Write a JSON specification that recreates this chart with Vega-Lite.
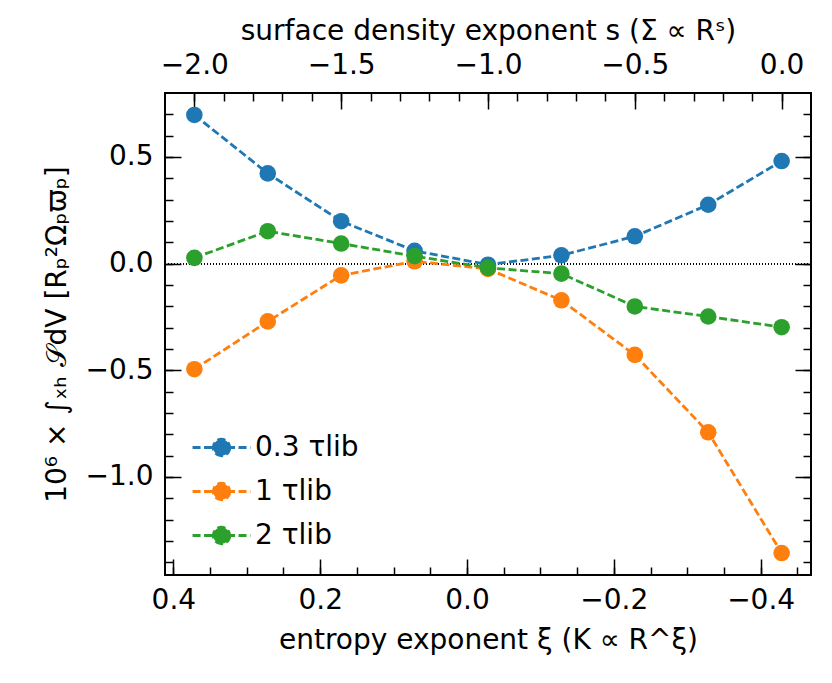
{
  "$schema": "https://vega.github.io/schema/vega-lite/v6.json",
  "autosize": "none",
  "padding": {"left": 165, "top": 93, "right": 21, "bottom": 108},
  "width": 646,
  "height": 482,
  "datasets": {
    "main": [
      {"s": -2.0, "xi": 0.3714, "series": "0.3 τlib", "v": 0.697},
      {"s": -1.75, "xi": 0.2714, "series": "0.3 τlib", "v": 0.423},
      {"s": -1.5, "xi": 0.1714, "series": "0.3 τlib", "v": 0.199},
      {"s": -1.25, "xi": 0.0714, "series": "0.3 τlib", "v": 0.060},
      {"s": -1.0, "xi": -0.0286, "series": "0.3 τlib", "v": -0.005},
      {"s": -0.75, "xi": -0.1286, "series": "0.3 τlib", "v": 0.039},
      {"s": -0.5, "xi": -0.2286, "series": "0.3 τlib", "v": 0.128},
      {"s": -0.25, "xi": -0.3286, "series": "0.3 τlib", "v": 0.276},
      {"s": 0.0, "xi": -0.4286, "series": "0.3 τlib", "v": 0.481},
      {"s": -2.0, "xi": 0.3714, "series": "1 τlib", "v": -0.495},
      {"s": -1.75, "xi": 0.2714, "series": "1 τlib", "v": -0.271},
      {"s": -1.5, "xi": 0.1714, "series": "1 τlib", "v": -0.055},
      {"s": -1.25, "xi": 0.0714, "series": "1 τlib", "v": 0.011},
      {"s": -1.0, "xi": -0.0286, "series": "1 τlib", "v": -0.025},
      {"s": -0.75, "xi": -0.1286, "series": "1 τlib", "v": -0.172},
      {"s": -0.5, "xi": -0.2286, "series": "1 τlib", "v": -0.428},
      {"s": -0.25, "xi": -0.3286, "series": "1 τlib", "v": -0.791},
      {"s": 0.0, "xi": -0.4286, "series": "1 τlib", "v": -1.357},
      {"s": -2.0, "xi": 0.3714, "series": "2 τlib", "v": 0.027},
      {"s": -1.75, "xi": 0.2714, "series": "2 τlib", "v": 0.152},
      {"s": -1.5, "xi": 0.1714, "series": "2 τlib", "v": 0.094},
      {"s": -1.25, "xi": 0.0714, "series": "2 τlib", "v": 0.035},
      {"s": -1.0, "xi": -0.0286, "series": "2 τlib", "v": -0.020},
      {"s": -0.75, "xi": -0.1286, "series": "2 τlib", "v": -0.047},
      {"s": -0.5, "xi": -0.2286, "series": "2 τlib", "v": -0.201},
      {"s": -0.25, "xi": -0.3286, "series": "2 τlib", "v": -0.248},
      {"s": 0.0, "xi": -0.4286, "series": "2 τlib", "v": -0.298}
    ]
  },
  "data": {"name": "main"},
  "layer": [
    {
      "mark": {"type": "rule", "color": "black", "strokeWidth": 1, "strokeDash": [1, 2]},
      "encoding": {
        "y": {"datum": 0, "type": "quantitative", "scale": {"domain": [-1.46, 0.80], "nice": false, "zero": false}, "axis": null}
      }
    },
    {
      "mark": {"type": "point", "opacity": 0},
      "encoding": {
        "x": {
          "field": "s", "type": "quantitative",
          "scale": {"domain": [-2.1, 0.1], "nice": false, "zero": false},
          "axis": {"orient": "top", "values": [-2, -1.5, -1, -0.5, 0], "format": ".1f", "tickSize": -16, "labelPadding": 30, "title": "surface density exponent s (Σ ∝ Rˢ)", "titlePadding": 6}
        },
        "y": {
          "field": "v", "type": "quantitative",
          "scale": {"domain": [-1.46, 0.80], "nice": false, "zero": false},
          "axis": {"orient": "right", "values": [-1, -0.5, 0, 0.5], "labels": false, "tickSize": -16, "title": null}
        }
      }
    },
    {
      "mark": {"type": "point", "opacity": 0},
      "encoding": {
        "x": {
          "field": "s", "type": "quantitative",
          "scale": {"domain": [-2.1, 0.1], "nice": false, "zero": false},
          "axis": {"orient": "top", "values": [-2, -1.9, -1.8, -1.7, -1.6, -1.5, -1.4, -1.3, -1.2, -1.1, -1, -0.9, -0.8, -0.7, -0.6, -0.5, -0.4, -0.3, -0.2, -0.1, 0], "labels": false, "tickSize": -8, "title": null}
        },
        "y": {
          "field": "v", "type": "quantitative",
          "scale": {"domain": [-1.46, 0.80], "nice": false, "zero": false},
          "axis": {"orient": "right", "values": [-1.4, -1.3, -1.2, -1.1, -1, -0.9, -0.8, -0.7, -0.6, -0.5, -0.4, -0.3, -0.2, -0.1, 0, 0.1, 0.2, 0.3, 0.4, 0.5, 0.6, 0.7], "labels": false, "tickSize": -8, "title": null}
        }
      }
    },
    {
      "mark": {"type": "point", "opacity": 0},
      "encoding": {
        "x": {
          "field": "xi", "type": "quantitative",
          "scale": {"domain": [0.4114, -0.4686], "nice": false, "zero": false},
          "axis": {"orient": "bottom", "values": [0.4, 0.35, 0.3, 0.25, 0.2, 0.15, 0.1, 0.05, 0, -0.05, -0.1, -0.15, -0.2, -0.25, -0.3, -0.35, -0.4, -0.45], "labels": false, "tickSize": -8, "title": null}
        },
        "y": {
          "field": "v", "type": "quantitative",
          "scale": {"domain": [-1.46, 0.80], "nice": false, "zero": false},
          "axis": {"orient": "left", "values": [-1.4, -1.3, -1.2, -1.1, -1, -0.9, -0.8, -0.7, -0.6, -0.5, -0.4, -0.3, -0.2, -0.1, 0, 0.1, 0.2, 0.3, 0.4, 0.5, 0.6, 0.7], "labels": false, "tickSize": -8, "title": null}
        }
      }
    },
    {
      "encoding": {
        "x": {
          "field": "xi", "type": "quantitative",
          "scale": {"domain": [0.4114, -0.4686], "nice": false, "zero": false},
          "axis": {"orient": "bottom", "values": [0.4, 0.2, 0, -0.2, -0.4], "format": ".1f", "tickSize": -16, "labelPadding": 27, "title": "entropy exponent ξ (K ∝ R^ξ)", "titlePadding": 12}
        },
        "y": {
          "field": "v", "type": "quantitative",
          "scale": {"domain": [-1.46, 0.80], "nice": false, "zero": false},
          "axis": {"orient": "left", "values": [-1, -0.5, 0, 0.5], "format": ".1f", "tickSize": -16, "labelPadding": 28, "title": "10⁶ × ∫ₓₕ 𝒮dV [Rₚ²Ωₚϖₚ]", "titlePadding": 14}
        },
        "color": {
          "field": "series", "type": "nominal",
          "scale": {"domain": ["0.3 τlib", "1 τlib", "2 τlib"], "range": ["#1f77b4", "#ff7f0e", "#2ca02c"]},
          "legend": {
            "orient": "none", "legendX": 40, "legendY": 338, "title": null, "padding": 0,
            "labelFont": "DejaVu Sans", "labelFontSize": 28, "labelColor": "black",
            "symbolType": "M-1.93,0H1.93M0.55,0A0.55,0.55,0,1,1,-0.55,0A0.55,0.55,0,1,1,0.55,0Z",
            "symbolSize": 900, "symbolStrokeWidth": 2.8, "symbolDash": [8, 3.5],
            "labelOffset": 17, "rowPadding": 13,
            "encode": {"symbols": {"update": {"fill": {"scale": "color", "field": "value"}, "stroke": {"scale": "color", "field": "value"}, "opacity": {"value": 1}}}}
          }
        }
      },
      "layer": [
        {"mark": {"type": "line", "strokeWidth": 2.8, "strokeDash": [8, 3.5]}},
        {"mark": {"type": "point", "filled": true, "size": 275, "opacity": 1}}
      ]
    }
  ],
  "resolve": {"scale": {"x": "independent"}, "axis": {"x": "independent", "y": "independent"}},
  "config": {
    "font": "DejaVu Sans",
    "view": {"stroke": "black", "strokeWidth": 2},
    "axis": {
      "labelFont": "DejaVu Sans", "titleFont": "DejaVu Sans",
      "labelFontSize": 28, "titleFontSize": 28, "titleFontWeight": "normal",
      "labelColor": "black", "titleColor": "black", "tickColor": "black",
      "tickWidth": 1.5, "domain": false, "grid": false
    }
  }
}
